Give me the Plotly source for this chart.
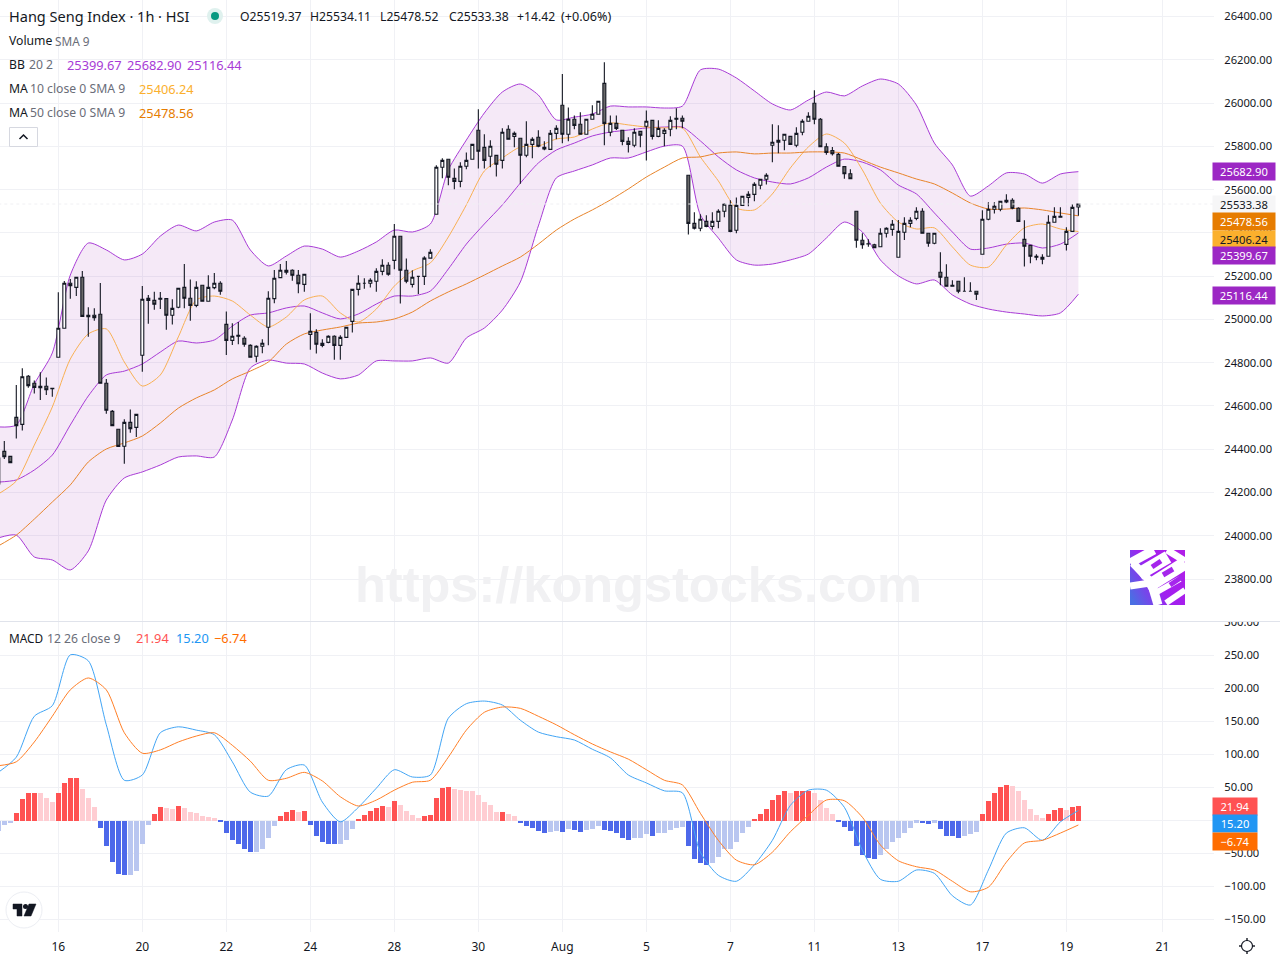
import base64
import plotly.graph_objects as go

# bar numbers, one per hourly candle
bars = list(range(-1, 180))
# the overlay lines were read every third bar
line_bars = list(range(-1, 180, 3))

opens = [24239,
    24390, 24367, 24547, 24515, 24737, 24705, 24691, 24691, 24681, 24825,
    24959, 25167, 25148, 25195, 25019, 25019, 25024, 24705, 24575, 24492,
    24414, 24524, 24501, 24834, 25088, 25088, 25098, 25096, 25019, 25056,
    25148, 25098, 25065, 25158, 25084, 25147, 25167, 24977, 24903, 24927,
    24913, 24880, 24830, 24876, 24964, 25096, 25193, 25218, 25227, 25204,
    25162, 24931, 24940, 24880, 24894, 24922, 24880, 24917, 24991, 25139,
    25167, 25167, 25176, 25222, 25250, 25273, 25384, 25227, 25162, 25199,
    25199, 25283, 25486, 25703, 25740, 25652, 25638, 25708, 25740, 25874,
    25795, 25754, 25758, 25735, 25879, 25846, 25837, 25759, 25809, 25842,
    25796, 25786, 25860, 25990, 25856, 25925, 25902, 25856, 25925, 25948,
    26091, 25865, 25906, 25874, 25823, 25805, 25869, 25893, 25920, 25846,
    25860, 25879, 25930, 25930, 25666, 25444, 25421, 25453, 25430, 25453,
    25500, 25527, 25412, 25527, 25564, 25578, 25620, 25648, 25805, 25819,
    25828, 25846, 25805, 25865, 25916, 25999, 25925, 25798, 25780, 25763,
    25706, 25673, 25500, 25366, 25350, 25345, 25336, 25398, 25416, 25287,
    25403, 25444, 25467, 25500, 25398, 25352, 25218, 25195, 25158, 25176,
    25130, 25130, 25130, 25301, 25463, 25509, 25509, 25551, 25551, 25514,
    25370, 25342, 25292, 25278, 25292, 25449, 25476, 25347, 25407, 25519.37]

highs = [24443,
    24438, 24367, 24697, 24774, 24743, 24718, 24756, 24732, 24684, 25125,
    25178, 25187, 25197, 25224, 25056, 25051, 25168, 24725, 24581, 24492,
    24538, 24584, 24561, 25154, 25113, 25128, 25127, 25096, 25093, 25144,
    25256, 25185, 25176, 25158, 25204, 25215, 25176, 25037, 24982, 24988,
    24922, 24885, 24880, 24908, 25130, 25228, 25256, 25270, 25232, 25228,
    25209, 25028, 24954, 24908, 24927, 24927, 24927, 24964, 25139, 25204,
    25190, 25190, 25236, 25278, 25264, 25441, 25384, 25282, 25227, 25199,
    25292, 25324, 25712, 25745, 25740, 25698, 25726, 25772, 25809, 25971,
    25856, 25828, 25758, 25883, 25897, 25869, 25837, 25916, 25842, 25874,
    25823, 25875, 25897, 26134, 25980, 25943, 25957, 25925, 25990, 26008,
    26188, 25943, 25943, 25874, 25842, 25883, 25869, 25966, 25920, 25920,
    25883, 25939, 25976, 25943, 25666, 25495, 25486, 25481, 25495, 25509,
    25537, 25551, 25564, 25569, 25592, 25634, 25648, 25675, 25902, 25897,
    25856, 25846, 25888, 25925, 25957, 26059, 25931, 25814, 25797, 25769,
    25706, 25694, 25500, 25398, 25370, 25350, 25421, 25426, 25460, 25460,
    25472, 25472, 25518, 25514, 25398, 25398, 25310, 25255, 25181, 25176,
    25195, 25172, 25130, 25504, 25541, 25541, 25546, 25578, 25560, 25518,
    25458, 25342, 25301, 25301, 25481, 25518, 25518, 25426, 25532, 25534.11]

lows = [24239,
    24355, 24338, 24449, 24486, 24684, 24657, 24628, 24651, 24643, 24825,
    24959, 25096, 25108, 25014, 24920, 24994, 24705, 24564, 24509, 24413,
    24333, 24476, 24456, 24758, 24980, 25045, 25048, 24952, 24976, 25051,
    25051, 24994, 25056, 25084, 25084, 25139, 25114, 24836, 24882, 24885,
    24874, 24825, 24802, 24843, 24880, 25075, 25193, 25208, 25179, 25121,
    25128, 24860, 24842, 24871, 24890, 24814, 24814, 24917, 24939, 25110,
    25142, 25147, 25128, 25204, 25202, 25232, 25073, 25167, 25148, 25117,
    25159, 25283, 25486, 25652, 25620, 25601, 25611, 25694, 25740, 25698,
    25698, 25703, 25660, 25697, 25833, 25796, 25627, 25749, 25745, 25796,
    25782, 25786, 25833, 25814, 25823, 25879, 25856, 25856, 25925, 25948,
    25805, 25846, 25876, 25805, 25772, 25796, 25796, 25735, 25832, 25842,
    25800, 25846, 25879, 25883, 25393, 25416, 25407, 25426, 25416, 25421,
    25472, 25403, 25398, 25527, 25523, 25546, 25601, 25624, 25726, 25768,
    25782, 25809, 25796, 25851, 25916, 25902, 25798, 25761, 25757, 25708,
    25650, 25650, 25331, 25327, 25336, 25331, 25336, 25379, 25387, 25287,
    25367, 25426, 25458, 25398, 25336, 25347, 25158, 25153, 25153, 25121,
    25130, 25130, 25090, 25301, 25458, 25490, 25500, 25537, 25509, 25453,
    25245, 25259, 25273, 25255, 25292, 25449, 25472, 25319, 25407, 25478.52]

closes = [24359,
    24365, 24338, 24509, 24735, 24694, 24686, 24684, 24675, 24680, 24959,
    25167, 25156, 25195, 25014, 25013, 25008, 24705, 24580, 24509, 24413,
    24524, 24495, 24561, 25093, 25098, 25070, 25093, 25019, 25051, 25144,
    25098, 25065, 25148, 25084, 25148, 25167, 25130, 24903, 24922, 24922,
    24885, 24825, 24876, 24890, 25098, 25190, 25227, 25227, 25204, 25165,
    25209, 24945, 24885, 24890, 24922, 24880, 24917, 24964, 25139, 25167,
    25167, 25181, 25222, 25250, 25209, 25384, 25227, 25176, 25195, 25199,
    25283, 25310, 25703, 25735, 25657, 25638, 25708, 25735, 25809, 25777,
    25735, 25800, 25717, 25865, 25833, 25860, 25759, 25809, 25832, 25800,
    25788, 25860, 25883, 25856, 25925, 25897, 25856, 25925, 25948, 26008,
    25906, 25906, 25883, 25823, 25809, 25865, 25851, 25916, 25846, 25883,
    25874, 25920, 25925, 25916, 25444, 25421, 25463, 25430, 25453, 25500,
    25532, 25407, 25527, 25569, 25578, 25624, 25648, 25666, 25819, 25828,
    25856, 25809, 25860, 25916, 25939, 25925, 25798, 25772, 25766, 25708,
    25673, 25650, 25366, 25345, 25349, 25331, 25398, 25421, 25440, 25407,
    25444, 25458, 25500, 25398, 25352, 25398, 25195, 25153, 25153, 25130,
    25130, 25130, 25116, 25463, 25509, 25523, 25546, 25543, 25514, 25453,
    25338, 25292, 25287, 25287, 25449, 25476, 25472, 25407, 25518, 25533.38]

bb_upper = [24503, 24512, 24701, 24845, 25205, 25353, 25321, 25275, 25302, 25385,
    25436, 25409, 25450, 25459, 25321, 25247, 25293, 25339, 25325, 25288,
    25316, 25358, 25413, 25404, 25441, 25691, 25829, 25954, 26051, 26088,
    26037, 25922, 25935, 25949, 25986, 25982, 25982, 25977, 25986, 26153,
    26157, 26116, 26056, 25996, 25968, 26014, 26051, 26033, 26079, 26111,
    26088, 25991, 25815, 25714, 25570, 25617, 25677, 25672, 25630, 25672, 25682.90]

bb_basis = [24248, 24258, 24304, 24373, 24512, 24646, 24743, 24761, 24794, 24849,
    24900, 24891, 24905, 24969, 25020, 25030, 25053, 25062, 25030, 25002,
    25025, 25071, 25108, 25108, 25131, 25233, 25348, 25441, 25529, 25630,
    25723, 25783, 25815, 25848, 25866, 25875, 25885, 25889, 25889, 25825,
    25751, 25691, 25654, 25635, 25626, 25654, 25704, 25741, 25727, 25691,
    25621, 25580, 25492, 25404, 25325, 25330, 25348, 25353, 25330, 25348, 25399.67]

bb_lower = [23990, 24003, 23902, 23888, 23842, 23930, 24165, 24267, 24295, 24327,
    24364, 24369, 24364, 24535, 24775, 24812, 24798, 24794, 24752, 24725,
    24743, 24808, 24808, 24808, 24822, 24798, 24914, 24960, 25043, 25173,
    25432, 25654, 25686, 25714, 25746, 25746, 25774, 25801, 25801, 25483,
    25376, 25275, 25251, 25256, 25275, 25302, 25376, 25450, 25404, 25275,
    25201, 25164, 25182, 25113, 25071, 25048, 25034, 25025, 25016, 25030, 25116.44]

ma10 = [24193, 24253, 24419, 24595, 24817, 24933, 24956, 24803, 24692, 24743,
    24919, 25090, 25108, 25085, 25020, 24965, 25011, 25090, 25108, 25030,
    24988, 25048, 25154, 25224, 25261, 25381, 25529, 25686, 25746, 25797,
    25801, 25834, 25843, 25880, 25908, 25899, 25889, 25885, 25885, 25751,
    25640, 25515, 25506, 25580, 25700, 25797, 25857, 25815, 25691, 25538,
    25450, 25418, 25423, 25335, 25251, 25242, 25344, 25423, 25441, 25418, 25406.24]

ma50 = [23953, 24003, 24077, 24156, 24235, 24341, 24401, 24429, 24461, 24521,
    24590, 24637, 24674, 24725, 24761, 24803, 24886, 24933, 24951, 24965,
    24983, 24988, 25002, 25034, 25085, 25127, 25164, 25205, 25247, 25288,
    25348, 25413, 25464, 25506, 25552, 25603, 25658, 25704, 25746, 25751,
    25769, 25774, 25765, 25769, 25769, 25774, 25774, 25769, 25737, 25704,
    25677, 25649, 25626, 25584, 25538, 25510, 25510, 25515, 25506, 25492, 25478.56]

macd_hist = [-16,
    -7, -4, 11, 33, 41, 42, 41, 34, 28, 41,
    57, 64, 65, 48, 34, 21, -12, -39, -63, -81,
    -83, -83, -76, -35, -7, 10, 20, 19, 17, 22,
    19, 13, 12, 7, 5, 4, -1, -19, -30, -36,
    -43, -47, -47, -43, -26, -9, 7, 13, 16, 13,
    14, -7, -23, -32, -35, -36, -35, -29, -13, 2,
    8, 14, 19, 22, 21, 30, 24, 14, 8, 4,
    7, 8, 34, 50, 51, 48, 47, 45, 44, 39,
    28, 24, 13, 13, 10, 7, -4, -9, -12, -16,
    -19, -18, -16, -18, -13, -15, -18, -15, -13, -9,
    -15, -16, -19, -26, -30, -27, -27, -21, -23, -19,
    -19, -15, -12, -10, -39, -58, -64, -67, -64, -55,
    -43, -43, -32, -19, -10, 2, 10, 17, 31, 39,
    44, 42, 44, 45, 45, 42, 31, 19, 10, -1,
    -10, -16, -38, -52, -57, -58, -52, -43, -33, -27,
    -19, -12, -3, -4, -6, -3, -13, -23, -24, -26,
    -24, -21, -18, 10, 30, 42, 51, 54, 53, 45,
    31, 17, 8, 4, 10, 16, 19, 16, 21, 21.94]

macd_line = [73, 96, 158, 174, 251, 242, 145, 61, 69, 133,
    142, 137, 130, 89, 43, 37, 77, 84, 28, -2,
    20, 49, 77, 66, 69, 155, 177, 181, 175, 152,
    134, 127, 122, 108, 95, 69, 57, 45, 42, -48,
    -83, -92, -67, -30, 23, 46, 46, 20, -45, -89,
    -92, -75, -80, -114, -128, -75, -19, -11, -30, -2, 15.20]

macd_signal = [83, 89, 119, 158, 198, 216, 198, 133, 102, 107,
    119, 128, 133, 114, 90, 61, 64, 73, 60, 36,
    22, 31, 46, 58, 61, 96, 137, 164, 172, 170,
    158, 145, 130, 116, 104, 93, 77, 61, 54, 11,
    -30, -60, -67, -48, -17, 8, 31, 30, 5, -37,
    -61, -70, -75, -92, -108, -101, -63, -34, -30, -19, -6.74]

# time axis labels
time_ticks = [9, 23, 37, 51, 65, 79, 93, 107, 121, 135, 149, 163, 177, 193]
time_labels = ["16", "20", "22", "24", "28", "30", "Aug", "5", "7", "11", "13", "17", "19", "21"]

FONT = "Noto Sans"
GRID = "#f0f1f5"
TEXT = "#131722"
MUTED = "#6a6d78"
BB_PURPLE = "#a83bd6"
W, H = 1280, 960


def px(x):
    return x / W


def py(y):
    return 1 - y / H


def hist_colors(values):
    # TradingView shades each bar by whether it grew or shrank against the last one
    colors = []
    for n, v in enumerate(values):
        prev = values[n - 1] if n else v
        if v >= 0:
            colors.append("#ff5252" if v >= prev and n else "#ffcdd2")
        else:
            colors.append("#4d68ea" if v < prev else "#b9c6f0")
    return colors


def curve(color):
    return dict(color=color, width=1, shape="spline", smoothing=0.7)


def label(x, y, text, color=TEXT, size=12.2, anchor="left", family=FONT):
    # annotations pad their box by about 2px
    x = x - 2 if anchor == "left" else x
    return dict(xref="paper", yref="paper", x=px(x), y=py(y), text=text, showarrow=False,
                xanchor=anchor, yanchor="middle", align=anchor,
                font=dict(family=family, size=size, color=color))


def tag(x0, width, y, text, bg, color="#ffffff"):
    return dict(xref="paper", yref="paper", x=px(x0 - 2), y=py(y), text=text, showarrow=False,
                xanchor="left", yanchor="middle", align="center", width=width, height=17,
                bgcolor=bg, borderpad=0, font=dict(family=FONT, size=11.2, color=color))


fig = go.Figure()

# band and averages sit on the base axes so the candles can cover them
fig.add_trace(go.Scatter(x=line_bars, y=bb_upper, mode="lines", line=curve(BB_PURPLE)))
fig.add_trace(go.Scatter(x=line_bars, y=bb_lower, mode="lines", line=curve(BB_PURPLE),
                         fill="tonexty", fillcolor="rgba(156,39,176,0.1)"))
fig.add_trace(go.Scatter(x=line_bars, y=bb_basis, mode="lines", line=curve(BB_PURPLE)))
fig.add_trace(go.Scatter(x=line_bars, y=ma10, mode="lines", line=curve("#f9b053")))
fig.add_trace(go.Scatter(x=line_bars, y=ma50, mode="lines", line=curve("#e8842a")))

fig.add_trace(go.Candlestick(
    x=bars, open=opens, high=highs, low=lows, close=closes, yaxis="y3", whiskerwidth=0,
    increasing=dict(fillcolor="#ffffff", line=dict(color="#131722", width=1.1)),
    decreasing=dict(fillcolor="#6a6a6a", line=dict(color="#131722", width=1.1)),
))
# last price dotted line
fig.add_trace(go.Scatter(x=[bars[0], 201.6], y=[closes[-1], closes[-1]], mode="lines", yaxis="y3",
                         line=dict(color="#f0f0f3", width=1, dash="dot")))

fig.add_trace(go.Bar(x=bars, y=macd_hist, xaxis="x2", yaxis="y2", width=0.84,
                     marker=dict(color=hist_colors(macd_hist), line=dict(width=0))))
fig.add_trace(go.Scatter(x=line_bars, y=macd_line, xaxis="x2", yaxis="y2", mode="lines", line=curve("#42a5f5")))
fig.add_trace(go.Scatter(x=line_bars, y=macd_signal, xaxis="x2", yaxis="y2", mode="lines", line=curve("#ff7f27")))

notes = [
    label(9, 16, "Hang Seng Index · 1h · HSI", size=14.5),
    label(240, 16, "O25519.37"), label(310, 16, "H25534.11"), label(380, 16, "L25478.52"),
    label(449, 16, "C25533.38"), label(517, 16, "+14.42"), label(561, 16, "(+0.06%)", size=12.6),
    label(9, 40.7, "Volume"), label(55, 40.7, "SMA 9", MUTED, 11.8),
    label(9, 64.7, "BB"), label(29, 64.7, "20 2", MUTED),
    label(67, 64.7, "25399.67", BB_PURPLE, 12.8), label(127, 64.7, "25682.90", BB_PURPLE, 12.8),
    label(187, 64.7, "25116.44", BB_PURPLE, 12.8),
    label(9, 88.7, "MA"), label(30, 88.7, "10 close 0 SMA 9", MUTED), label(139, 88.7, "25406.24", "#fbb02d", 12.8),
    label(9, 112.7, "MA"), label(30, 112.7, "50 close 0 SMA 9", MUTED), label(139, 112.7, "25478.56", "#e67c00", 12.8),
    label(9, 638, "MACD", size=11.8), label(47, 638, "12 26 close 9", MUTED),
    label(136, 638, "21.94", "#ff5252", 12.8), label(176, 638, "15.20", "#2196f3", 12.8), label(214, 638, "−6.74", "#ff6d00", 12.8),
    label(638, 584, "<b>https://kongstocks.com</b>", "#f1f1f3", 50.5, "center", "Liberation Sans"),
    tag(1214, 62, 171.5, "25682.90", "#9c27c4"),
    tag(1214, 62, 204.5, "25533.38", "#f6f6f7", TEXT),
    tag(1214, 62, 222, "25478.56", "#e67c00"),
    tag(1214, 62, 239, "25406.24", "#fbb02d", TEXT),
    tag(1214, 62, 256, "25399.67", "#9c27c4"),
    tag(1214, 62, 295, "25116.44", "#9c27c4"),
    tag(1214, 44, 806.5, "21.94", "#ff5252"),
    tag(1214, 44, 823.5, "15.20", "#2196f3"),
    tag(1214, 44, 841, "−6.74", "#ff6d00"),
]


def paper_shape(kind, x0, y0, x1, y1, **kw):
    return dict(type=kind, xref="paper", yref="paper", x0=px(x0), y0=py(y0), x1=px(x1), y1=py(y1), **kw)


def paper_path(points, close=False, **kw):
    d = "M " + " L ".join(f"{px(a):.5f},{py(b):.5f}" for a, b in points) + (" Z" if close else "")
    return dict(type="path", xref="paper", yref="paper", path=d, **kw)


shapes = [
    # pane divider, and the blank strip that clips the 300.00 label
    paper_shape("rect", 1214, 606, 1280, 622, fillcolor="#ffffff", line_width=0, layer="above"),
    paper_shape("line", 0, 621.5, 1280, 621.5, line=dict(color="#e0e3eb", width=1), layer="above"),
    # status dot
    paper_shape("circle", 207, 8, 223, 24, fillcolor="#dff1ee", line_width=0, layer="above"),
    paper_shape("circle", 211, 12, 219, 20, fillcolor="#089981", line_width=0, layer="above"),
    # collapse button
    paper_shape("rect", 9.5, 127.5, 37.5, 146.5, fillcolor="#ffffff", line=dict(color="#d6d8e0", width=1), layer="above"),
    paper_path([(19.5, 139), (23.5, 135), (27.5, 139)], line=dict(color=TEXT, width=1.5), layer="above"),
    # TradingView badge
    paper_shape("circle", 6, 892, 42, 928, fillcolor="#ffffff", line=dict(color="#eceef3", width=1), layer="above"),
    paper_path([(13, 904), (22, 904), (22, 916), (17, 916), (17, 909), (13, 909)], close=True,
               fillcolor=TEXT, line=dict(color=TEXT, width=0.5), layer="above"),
    paper_shape("circle", 23, 904, 28, 909, fillcolor=TEXT, line_width=0, layer="above"),
    paper_path([(29, 904), (36, 904), (31, 916), (24, 916)], close=True,
               fillcolor=TEXT, line=dict(color=TEXT, width=0.5), layer="above"),
    # settings gear
    paper_shape("circle", 1241.5, 940.5, 1252.5, 951.5, fillcolor="#ffffff", line=dict(color=TEXT, width=1.2), layer="above"),
    paper_path([(1247, 938), (1247, 941)], line=dict(color=TEXT, width=1.4), layer="above"),
    paper_path([(1247, 951), (1247, 954)], line=dict(color=TEXT, width=1.4), layer="above"),
    paper_path([(1239, 946), (1242, 946)], line=dict(color=TEXT, width=1.4), layer="above"),
    paper_path([(1252, 946), (1255, 946)], line=dict(color=TEXT, width=1.4), layer="above"),
]

# site logo as a small inline svg
logo_svg = """<svg xmlns="http://www.w3.org/2000/svg" viewBox="0 0 55 55" width="55" height="55">
<defs><linearGradient id="g" x1="0" y1="0.85" x2="1" y2="0.3">
<stop offset="0" stop-color="#4a6fe3"/><stop offset="0.5" stop-color="#a020f0"/><stop offset="1" stop-color="#b01ee8"/>
</linearGradient></defs>
<rect width="55" height="55" fill="url(#g)"/>
<g stroke="#fff" fill="none" stroke-linecap="butt">
<path d="M0 13 L24 0" stroke-width="9"/><path d="M3 13 L20 31" stroke-width="8"/>
<path d="M9 24 L38 7" stroke-width="13"/><path d="M17 37 L55 13" stroke-width="13"/>
<path d="M0 36 L20 33" stroke-width="7"/><path d="M20 28 L28 55" stroke-width="9"/>
<path d="M27 42 L50 29" stroke-width="6"/><path d="M36 53 L55 40" stroke-width="6"/>
<path d="M37 0 L55 11" stroke-width="7"/>
</g>
<g stroke="#a526ec" fill="none">
<path d="M22 17 L31 11" stroke-width="5"/><path d="M33 25 L43 19" stroke-width="5"/><path d="M40 35 L52 27" stroke-width="5"/>
</g></svg>"""
logo_uri = "data:image/svg+xml;base64," + base64.b64encode(logo_svg.encode()).decode()

x_range = [-0.717, 201.6]
price_range = [23606, 26476.3]
xaxis_common = dict(range=x_range, tickmode="array", tickvals=time_ticks, ticktext=time_labels,
                    showgrid=True, gridcolor=GRID, gridwidth=1, zeroline=False, showline=False,
                    automargin=False, rangeslider=dict(visible=False))
yaxis_common = dict(side="right", showgrid=True, gridcolor=GRID, gridwidth=1, zeroline=False, showline=False,
                    tickformat=".2f", automargin=False, ticks="outside", ticklen=7, tickcolor="rgba(0,0,0,0)",
                    tickfont=dict(family=FONT, size=11.2, color=TEXT))

fig.update_layout(
    width=W, height=H, margin=dict(l=0, r=0, t=0, b=0), template="none",
    paper_bgcolor="#ffffff", plot_bgcolor="#ffffff", showlegend=False, bargap=0, hovermode=False,
    font=dict(family=FONT, size=12, color=TEXT),
    xaxis=dict(**xaxis_common, domain=[0, px(1214)], anchor="y", showticklabels=False),
    xaxis2=dict(**xaxis_common, domain=[0, px(1214)], anchor="y2", matches="x", ticklen=4, ticks="outside",
                tickcolor="rgba(0,0,0,0)", tickfont=dict(family=FONT, size=12, color=TEXT)),
    yaxis=dict(**yaxis_common, domain=[py(621), 1], range=price_range, dtick=200, tick0=23800, anchor="x"),
    yaxis2=dict(**yaxis_common, domain=[py(932), py(622)], range=[-168.9, 300.8], dtick=50, tick0=0, anchor="x2"),
    yaxis3=dict(domain=[py(621), 1], range=price_range, overlaying="y", side="right", visible=False, anchor="x"),
    annotations=notes,
    shapes=shapes,
    images=[dict(source=logo_uri, xref="paper", yref="paper", x=px(1130), y=py(550), sizex=px(55), sizey=55 / H,
                 xanchor="left", yanchor="top", sizing="stretch", layer="above")],
)

fig.write_html("out.html", config={"displayModeBar": False},
               post_script="document.body.style.margin='0';document.documentElement.style.overflow='hidden';")
